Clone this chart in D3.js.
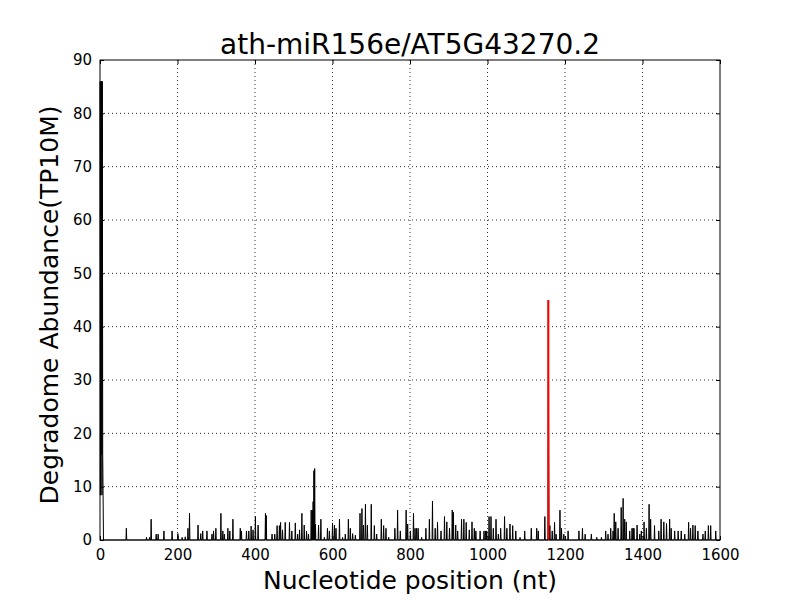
<!DOCTYPE html>
<html>
<head>
<meta charset="utf-8">
<script src="https://cdn.jsdelivr.net/npm/d3@7"></script>
<style>
  body { margin: 0; background: #fff; }
  svg { font-family: "DejaVu Sans", sans-serif; }
</style>
</head>
<body>
<div id="main-content"></div>
<script>
// chart text
const title = "ath-miR156e/AT5G43270.2";
const xLabel = "Nucleotide position (nt)";
const yLabel = "Degradome Abundance(TP10M)";
const xTicks = [0, 200, 400, 600, 800, 1000, 1200, 1400, 1600];
const yTicks = [0, 10, 20, 30, 40, 50, 60, 70, 80, 90];
const seqLength = 1600;

// nonzero reads (position, abundance)
const positions = [0, 1, 2, 3, 4, 5, 6, 7, 8, 68, 120, 128, 132, 145, 150, 165, 186, 201, 212, 220, 227, 231, 253, 260, 265,
  276, 289, 293, 299, 312, 317, 321, 330, 335, 343, 362, 365, 378, 384, 390, 395, 401, 408, 427, 429, 444, 451,
  457, 463, 466, 471, 478, 489, 495, 504, 510, 515, 521, 527, 533, 538, 545, 548, 550, 552, 554, 556, 564, 570,
  579, 587, 592, 600, 605, 609, 618, 626, 633, 641, 646, 652, 659, 671, 676, 680, 685, 690, 700, 708, 714, 726,
  732, 738, 745, 761, 768, 775, 790, 794, 801, 809, 813, 817, 821, 830, 841, 850, 858, 865, 871, 880, 889, 895,
  902, 909, 912, 918, 923, 933, 939, 945, 953, 960, 966, 970, 981, 991, 995, 998, 1004, 1009, 1015, 1022, 1028,
  1034, 1044, 1050, 1058, 1065, 1073, 1084, 1096, 1113, 1127, 1131, 1148, 1157, 1158, 1161, 1167, 1173, 1177,
  1187, 1191, 1197, 1208, 1236, 1245, 1252, 1268, 1282, 1294, 1305, 1311, 1318, 1324, 1327, 1331, 1337, 1345,
  1350, 1354, 1358, 1367, 1373, 1376, 1378, 1386, 1393, 1397, 1404, 1410, 1417, 1421, 1431, 1442, 1448, 1455,
  1462, 1470, 1474, 1483, 1492, 1500, 1509, 1519, 1524, 1530, 1536, 1543, 1556, 1562, 1570, 1576, 1589];
const abundance = [86, 8.4, 86, 16, 86, 8.4, 86, 16, 8.4, 2.2, 0.5, 0.5, 3.9, 1.1, 1.1, 1.7, 1.7, 1.2, 0.5, 0.6, 2.2, 5.0, 2.8, 1.2, 1.7,
  1.7, 1.1, 1.7, 2.2, 5.0, 1.7, 1.1, 2.2, 1.7, 3.9, 2.2, 1.7, 1.7, 1.7, 2.6, 1.9, 4.4, 2.8, 5.0, 4.6, 1.1, 1.1,
  2.7, 2.7, 3.3, 1.9, 3.3, 3.3, 1.7, 3.2, 1.1, 1.9, 5.0, 2.8, 1.7, 1.1, 5.6, 5.6, 7.2, 13.0, 13.4, 3.0, 2.8, 3.9,
  0.5, 2.2, 1.7, 3.2, 2.8, 2.2, 3.9, 0.5, 1.1, 3.9, 2.2, 1.2, 0.9, 5.0, 5.9, 2.8, 6.7, 2.8, 6.7, 2.7, 1.1, 3.9,
  2.7, 2.2, 0.5, 2.2, 5.6, 1.7, 5.6, 3.0, 1.7, 5.0, 2.2, 2.2, 2.2, 0.5, 2.2, 3.9, 7.3, 2.2, 3.3, 1.7, 4.4, 3.4,
  2.2, 5.6, 5.2, 2.8, 1.7, 3.9, 3.9, 3.3, 1.9, 3.4, 2.2, 1.7, 1.7, 1.7, 1.7, 1.7, 4.4, 4.4, 2.2, 3.9, 1.1,
  2.2, 4.4, 2.2, 3.0, 2.7, 1.7, 0.5, 1.7, 2.2, 2.2, 1.7, 4.4, 45, 16, 2.7, 1.7, 3.3, 1.1,
  5.6, 2.2, 1.1, 1.7, 1.7, 2.2, 1.1, 1.1, 0.5, 0.5, 1.7, 1.1, 2.2, 1.7, 5.0, 3.4, 2.2, 6.1,
  7.8, 3.9, 3.4, 1.7, 2.2, 2.2, 2.2, 2.8, 1.1, 1.7, 3.4, 2.2, 6.7, 3.9, 2.7, 1.7, 3.9, 3.4,
  3.1, 3.9, 2.2, 1.7, 1.7, 1.7, 1.1, 3.3, 2.2, 2.8, 2.7, 1.7, 1.1, 1.7, 2.7, 2.7, 1.7];
// cleavage site shown in red
const sitePosition = 1157;
const siteAbundance = 45;

const width = 800, height = 600;
const margin = { top: 60, right: 80, bottom: 60, left: 100 };
const w = width - margin.left - margin.right;
const h = height - margin.top - margin.bottom;

// full profile: zero everywhere except the read positions
const profile = d3.range(0, seqLength + 1).map(p => ({ p: p, v: 0 }));
positions.forEach((p, i) => { profile[p].v = abundance[i]; });

const x = d3.scaleLinear().domain([0, 1600]).range([0, w]);
const y = d3.scaleLinear().domain([0, 90]).range([h, 0]);

const svg = d3.select("#main-content")
  .append("svg")
  .attr("width", width)
  .attr("height", height);

const g = svg.append("g").attr("transform", `translate(${margin.left},${margin.top})`);

// grid
g.append("g").selectAll("line")
  .data(xTicks.slice(1, -1))
  .join("line")
  .attr("x1", d => x(d)).attr("x2", d => x(d))
  .attr("y1", 0).attr("y2", h)
  .attr("stroke", "#000").attr("stroke-width", 0.8)
  .attr("stroke-dasharray", "1,3");
g.append("g").selectAll("line")
  .data(yTicks.slice(1, -1))
  .join("line")
  .attr("y1", d => y(d)).attr("y2", d => y(d))
  .attr("x1", 0).attr("x2", w)
  .attr("stroke", "#000").attr("stroke-width", 0.8)
  .attr("stroke-dasharray", "1,3");

// data line
const line = d3.line().x(d => x(d.p)).y(d => y(d.v));
g.append("path")
  .datum(profile)
  .attr("fill", "none")
  .attr("stroke", "#000")
  .attr("stroke-width", 1)
  .attr("d", line);

g.append("line")
  .attr("x1", x(sitePosition)).attr("x2", x(sitePosition))
  .attr("y1", y(0)).attr("y2", y(siteAbundance))
  .attr("stroke", "#ff0000")
  .attr("stroke-width", 2);

// axes, ticks inside on all sides
const tickLen = 4;
const fmt = d3.format("d");
g.append("g").attr("transform", `translate(0,${h})`)
  .call(d3.axisBottom(x).tickValues(xTicks).tickFormat(fmt).tickSizeInner(-tickLen).tickSizeOuter(0).tickPadding(9));
g.append("g")
  .call(d3.axisLeft(y).tickValues(yTicks).tickFormat(fmt).tickSizeInner(-tickLen).tickSizeOuter(0).tickPadding(8));
g.append("g")
  .call(d3.axisTop(x).tickValues(xTicks).tickSizeInner(-tickLen).tickSizeOuter(0).tickFormat(""));
g.append("g").attr("transform", `translate(${w},0)`)
  .call(d3.axisRight(y).tickValues(yTicks).tickSizeInner(-tickLen).tickSizeOuter(0).tickFormat(""));

g.selectAll(".domain").remove();
g.selectAll(".tick line").attr("stroke", "#000");
g.selectAll(".tick text").attr("fill", "#000").style("font-size", "15px").style("font-family", "DejaVu Sans");

g.append("rect")
  .attr("width", w).attr("height", h)
  .attr("fill", "none").attr("stroke", "#000").attr("stroke-width", 1);

// labels
svg.append("text")
  .attr("x", margin.left + w / 2).attr("y", 54)
  .attr("text-anchor", "middle")
  .style("font-size", "28px")
  .text(title);
svg.append("text")
  .attr("x", margin.left + w / 2).attr("y", 589)
  .attr("text-anchor", "middle")
  .style("font-size", "25px")
  .text(xLabel);
svg.append("text")
  .attr("transform", `translate(58,${margin.top + h / 2 + 5}) rotate(-90)`)
  .attr("text-anchor", "middle")
  .style("font-size", "25px")
  .text(yLabel);
</script>
</body>
</html>
